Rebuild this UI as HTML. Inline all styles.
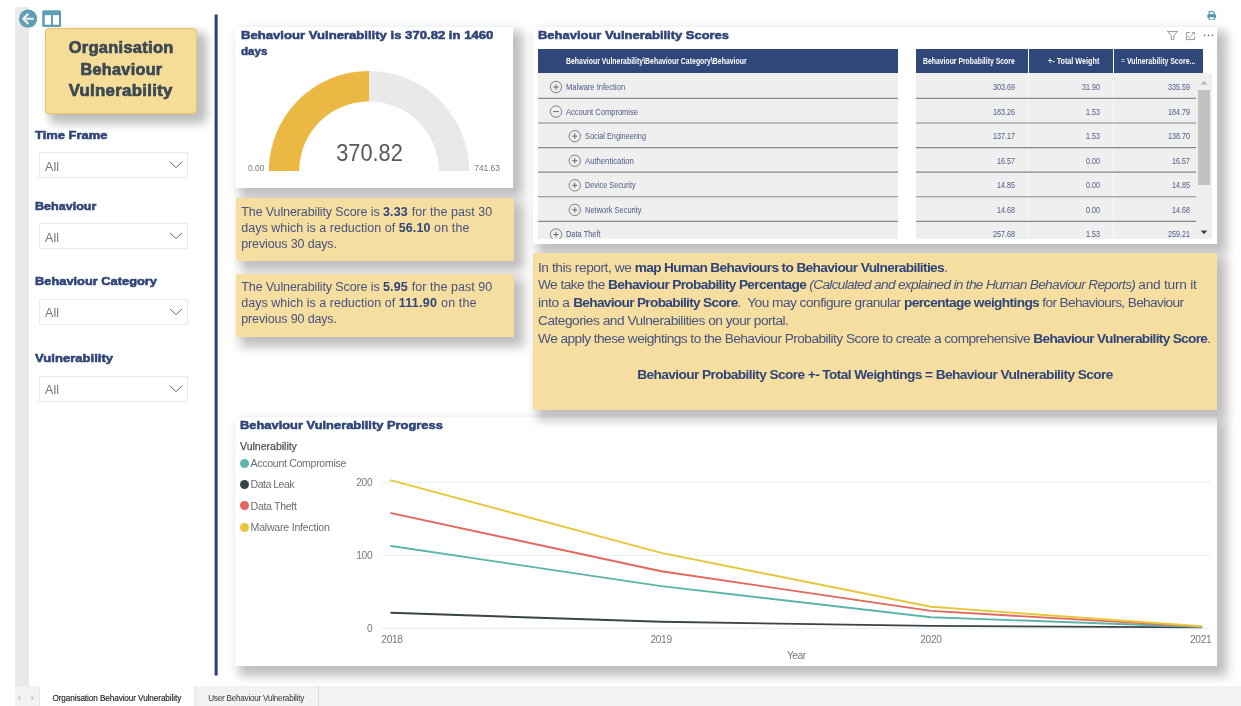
<!DOCTYPE html>
<html><head><meta charset="utf-8"><title>Organisation Behaviour Vulnerability</title>
<style>
html,body{margin:0;padding:0;background:#fff;}
body{width:1241px;height:706px;position:relative;overflow:hidden;font-family:"Liberation Sans",sans-serif;}
.a{position:absolute;}
.t{position:absolute;white-space:nowrap;line-height:1;}
.sh{box-shadow:7px 7px 10px 3px rgba(0,0,0,.255);}
.blk{font-weight:700;color:#2f4478;-webkit-text-stroke:.55px #2f4478;}
.card{position:absolute;background:#fff;}
.ybox{position:absolute;background:#f5dea0;}
.sl{position:absolute;left:38.8px;width:147px;height:24px;border:1px solid #e9e9e9;background:#fff;box-sizing:content-box;}
.sl span{position:absolute;left:5.3px;top:6.4px;font-size:12.5px;line-height:14px;color:#777;}
.sl svg{position:absolute;left:129.3px;top:8px;}
.tx{color:#46537e;}
.tx b{color:#2f4478;}
</style></head><body><div id="root" style="position:absolute;left:0;top:0;width:1241px;height:706px;will-change:transform">

<!-- left grey strip + tab bar -->
<div class="a" style="left:15px;top:7px;width:14px;height:679px;background:#eaeaea"></div>
<div class="a" id="tabbar" style="left:15px;top:686px;width:1226px;height:20px;background:#f3f2f1"></div>

<!-- vertical divider -->
<svg class="a" style="left:213px;top:14px" width="6" height="663" viewBox="213 14 6 663"><rect x="214.6" y="14.5" width="3.05" height="661" fill="#2c4279"/></svg>

<!-- CHART CARD -->
<div class="card sh" id="chart" style="left:235px;top:417px;width:982px;height:249px"></div>

<!-- CHART CONTENT -->
<div class="t blk" style="left:240px;top:420px;font-size:11.5px"><span style="display:inline-block;transform-origin:left center;transform:scaleX(1.1200);">Behaviour Vulnerability Progress</span></div>
<div class="t" style="left:240px;top:440.6px;font-size:10.6px;color:#555;-webkit-text-stroke:.25px #555"><span style="letter-spacing:-0.033px;">Vulnerability</span></div>
<div class="a" style="left:239.70000000000002px;top:458.79999999999995px;width:9.2px;height:9.2px;border-radius:50%;background:#5cb5a7"></div>
<div class="t" style="left:250.6px;top:458.0px;font-size:10.6px;color:#6e6e6e"><span style="letter-spacing:-0.327px;">Account Compromise</span></div>
<div class="a" style="left:239.70000000000002px;top:480.0px;width:9.2px;height:9.2px;border-radius:50%;background:#394348"></div>
<div class="t" style="left:250.6px;top:479.2px;font-size:10.6px;color:#6e6e6e"><span style="letter-spacing:-0.533px;">Data Leak</span></div>
<div class="a" style="left:239.70000000000002px;top:501.29999999999995px;width:9.2px;height:9.2px;border-radius:50%;background:#e2665d"></div>
<div class="t" style="left:250.6px;top:500.5px;font-size:10.6px;color:#6e6e6e"><span style="letter-spacing:-0.328px;">Data Theft</span></div>
<div class="a" style="left:239.70000000000002px;top:522.9px;width:9.2px;height:9.2px;border-radius:50%;background:#e8c63b"></div>
<div class="t" style="left:250.6px;top:522.1px;font-size:10.6px;color:#6e6e6e"><span style="letter-spacing:-0.237px;">Malware Infection</span></div>
<svg class="a" style="left:235px;top:417px" width="982" height="249" viewBox="235 417 982 249"><path d="M382 482.4H1210.6" stroke="#ececec" stroke-width="1"/><path d="M382 555.4H1210.6" stroke="#ececec" stroke-width="1"/><path d="M382 628.3H1210.6" stroke="#ececec" stroke-width="1"/><path d="M391.2 612.8 L661.2 621.8 L930.9 625.9 L1201.3 627.4" fill="none" stroke="#394348" stroke-width="1.9" stroke-linejoin="round" stroke-linecap="round"/><path d="M391.2 546.0 L661.2 586.1 L930.9 617.2 L1201.3 627.0" fill="none" stroke="#5cb5a7" stroke-width="1.9" stroke-linejoin="round" stroke-linecap="round"/><path d="M391.2 513.1 L661.2 571.3 L930.9 610.9 L1201.3 626.6" fill="none" stroke="#e2665d" stroke-width="1.9" stroke-linejoin="round" stroke-linecap="round"/><path d="M391.2 480.3 L661.2 552.9 L930.9 606.8 L1201.3 626.3" fill="none" stroke="#e8c63b" stroke-width="1.9" stroke-linejoin="round" stroke-linecap="round"/></svg>
<div class="t" style="left:356.3px;top:478.4px;font-size:10.2px;color:#777"><span style="letter-spacing:-0.367px;">200</span></div>
<div class="t" style="left:356.3px;top:551.2px;font-size:10.2px;color:#777"><span style="letter-spacing:-0.367px;">100</span></div>
<div class="t" style="left:366.9px;top:624.1px;font-size:10.2px;color:#777"><span style="letter-spacing:-0.372px;">0</span></div>
<div class="t" style="left:381.3px;top:634.5px;font-size:10.2px;color:#777"><span style="letter-spacing:-0.318px;">2018</span></div>
<div class="t" style="left:650.4px;top:634.5px;font-size:10.2px;color:#777"><span style="letter-spacing:-0.318px;">2019</span></div>
<div class="t" style="left:920.2px;top:634.5px;font-size:10.2px;color:#777"><span style="letter-spacing:-0.318px;">2020</span></div>
<div class="t" style="left:1190.0px;top:634.5px;font-size:10.2px;color:#777"><span style="letter-spacing:-0.318px;">2021</span></div>
<div class="t" style="left:787px;top:651.2px;font-size:10.2px;color:#777"><span style="letter-spacing:-0.498px;">Year</span></div>

<!-- TABLE CARD -->
<div class="card sh" id="table" style="left:533px;top:27px;width:684.2px;height:216.5px"></div>

<!-- GAUGE CARD -->
<div class="card sh" id="gauge" style="left:235px;top:27px;width:278px;height:161px"></div>

<!-- TEXT BOXES -->
<div class="ybox sh" id="tb1" style="left:236.4px;top:198px;width:277.2px;height:63px"></div>
<div class="ybox sh" id="tb2" style="left:236.4px;top:273.7px;width:277.2px;height:63px"></div>
<div class="ybox sh" id="tb3" style="left:533px;top:253px;width:684px;height:157px"></div>


<!-- TABLE CONTENT -->
<div class="t blk" style="left:538.3px;top:29.6px;font-size:11.5px"><span style="display:inline-block;transform-origin:left center;transform:scaleX(1.1263);">Behaviour Vulnerability Scores</span></div>
<svg class="a" style="left:1160px;top:28px" width="56" height="14" viewBox="1160 28 56 14"><path d="M1167.4 31.4h10.2l-3.7 4.2v4h-2.6v-4z" fill="none" stroke="#888" stroke-width=".85" stroke-linejoin="miter"/><path d="M1190 32.6h-3.6v7h8.1v-3M1192 32.6h2.5v2" fill="none" stroke="#888" stroke-width=".85"/><path d="M1191 36.1l3.3-3.3" stroke="#999" stroke-width=".7"/><path d="M1186.6 36.5h3.7v3" fill="none" stroke="#b0b0b0" stroke-width=".7"/><circle cx="1204.5" cy="35.4" r=".8" fill="#666"/><circle cx="1208.55" cy="35.4" r=".8" fill="#666"/><circle cx="1212.5" cy="35.4" r=".8" fill="#666"/></svg>
<div class="a" style="left:538px;top:73.2px;width:360px;height:165.5px;background:#efefef"></div>
<div class="a" style="left:916.2px;top:73.2px;width:295.9px;height:165.5px;background:#efefef"></div>
<div class="a" style="left:538px;top:49px;width:360px;height:24.3px;background:#30477a"></div>
<div class="a" style="left:916.2px;top:49px;width:286.7px;height:24.3px;background:#30477a"></div>
<div class="a" style="left:1027.8px;top:48.6px;width:.9px;height:24.7px;background:#fff"></div>
<div class="a" style="left:1027.8px;top:73.3px;width:.9px;height:165.4px;background:#fff;opacity:.55"></div>
<div class="a" style="left:1112.9px;top:48.6px;width:.9px;height:24.7px;background:#fff"></div>
<div class="a" style="left:1112.9px;top:73.3px;width:.9px;height:165.4px;background:#fff;opacity:.55"></div>
<div class="t" style="left:566.3px;top:57.0px;font-size:8.9px;font-weight:700;color:#fff"><span style="display:inline-block;transform-origin:left center;transform:scaleX(0.7807);">Behaviour Vulnerability\Behaviour Category\Behaviour</span></div>
<div class="t" style="left:923.2px;top:57.0px;font-size:8.9px;font-weight:700;color:#fff"><span style="display:inline-block;transform-origin:left center;transform:scaleX(0.7715);">Behaviour Probability Score</span></div>
<div class="t" style="left:1048.3px;top:57.0px;font-size:8.9px;font-weight:700;color:#fff"><span style="display:inline-block;transform-origin:left center;transform:scaleX(0.8139);">+- Total Weight</span></div>
<div class="t" style="left:1121px;top:57.0px;font-size:8.9px;font-weight:700;color:#fff"><span style="display:inline-block;transform-origin:left center;transform:scaleX(0.7811);"><span style="color:#a9b3cc">=</span> Vulnerability Score...</span></div>
<svg class="a" style="left:538px;top:73px" width="660" height="166" viewBox="538 73 660 166"><path d="M538 98.40H898M916.2 98.40H1196.2" stroke="#888" stroke-width="1.15"/><path d="M538 122.98H898M916.2 122.98H1196.2" stroke="#888" stroke-width="1.15"/><path d="M538 147.56H898M916.2 147.56H1196.2" stroke="#888" stroke-width="1.15"/><path d="M538 172.14H898M916.2 172.14H1196.2" stroke="#888" stroke-width="1.15"/><path d="M538 196.72H898M916.2 196.72H1196.2" stroke="#888" stroke-width="1.15"/><path d="M538 221.30H898M916.2 221.30H1196.2" stroke="#888" stroke-width="1.15"/></svg>
<div class="a" style="left:0;top:0;width:1241px;height:238.7px;overflow:hidden"><div class="t" style="left:566.3px;top:83.00px;font-size:8.6px;color:#4a5986"><span style="display:inline-block;transform-origin:left center;transform:scaleX(0.8789);">Malware Infection</span></div>
<div class="t" style="left:992.80px;top:83.00px;font-size:8.6px;color:#4a5986"><span style="display:inline-block;transform-origin:left center;transform:scaleX(0.8366);">303.69</span></div>
<div class="t" style="left:1081.70px;top:83.00px;font-size:8.6px;color:#4a5986"><span style="display:inline-block;transform-origin:left center;transform:scaleX(0.8320);">31.90</span></div>
<div class="t" style="left:1167.70px;top:83.00px;font-size:8.6px;color:#4a5986"><span style="display:inline-block;transform-origin:left center;transform:scaleX(0.8366);">335.59</span></div>
<div class="t" style="left:566.3px;top:107.58px;font-size:8.6px;color:#4a5986"><span style="display:inline-block;transform-origin:left center;transform:scaleX(0.8764);">Account Compromise</span></div>
<div class="t" style="left:992.80px;top:107.58px;font-size:8.6px;color:#4a5986"><span style="display:inline-block;transform-origin:left center;transform:scaleX(0.8366);">183.26</span></div>
<div class="t" style="left:1085.75px;top:107.58px;font-size:8.6px;color:#4a5986"><span style="display:inline-block;transform-origin:left center;transform:scaleX(0.8276);">1.53</span></div>
<div class="t" style="left:1167.70px;top:107.58px;font-size:8.6px;color:#4a5986"><span style="display:inline-block;transform-origin:left center;transform:scaleX(0.8366);">184.79</span></div>
<div class="t" style="left:585.2px;top:132.16px;font-size:8.6px;color:#4a5986"><span style="display:inline-block;transform-origin:left center;transform:scaleX(0.8511);">Social Engineering</span></div>
<div class="t" style="left:992.80px;top:132.16px;font-size:8.6px;color:#4a5986"><span style="display:inline-block;transform-origin:left center;transform:scaleX(0.8366);">137.17</span></div>
<div class="t" style="left:1085.75px;top:132.16px;font-size:8.6px;color:#4a5986"><span style="display:inline-block;transform-origin:left center;transform:scaleX(0.8276);">1.53</span></div>
<div class="t" style="left:1167.70px;top:132.16px;font-size:8.6px;color:#4a5986"><span style="display:inline-block;transform-origin:left center;transform:scaleX(0.8366);">138.70</span></div>
<div class="t" style="left:585.2px;top:156.74px;font-size:8.6px;color:#4a5986"><span style="display:inline-block;transform-origin:left center;transform:scaleX(0.8959);">Authentication</span></div>
<div class="t" style="left:996.90px;top:156.74px;font-size:8.6px;color:#4a5986"><span style="display:inline-block;transform-origin:left center;transform:scaleX(0.8320);">16.57</span></div>
<div class="t" style="left:1085.75px;top:156.74px;font-size:8.6px;color:#4a5986"><span style="display:inline-block;transform-origin:left center;transform:scaleX(0.8276);">0.00</span></div>
<div class="t" style="left:1171.80px;top:156.74px;font-size:8.6px;color:#4a5986"><span style="display:inline-block;transform-origin:left center;transform:scaleX(0.8320);">16.57</span></div>
<div class="t" style="left:585.2px;top:181.32px;font-size:8.6px;color:#4a5986"><span style="display:inline-block;transform-origin:left center;transform:scaleX(0.8475);">Device Security</span></div>
<div class="t" style="left:996.90px;top:181.32px;font-size:8.6px;color:#4a5986"><span style="display:inline-block;transform-origin:left center;transform:scaleX(0.8320);">14.85</span></div>
<div class="t" style="left:1085.75px;top:181.32px;font-size:8.6px;color:#4a5986"><span style="display:inline-block;transform-origin:left center;transform:scaleX(0.8276);">0.00</span></div>
<div class="t" style="left:1171.80px;top:181.32px;font-size:8.6px;color:#4a5986"><span style="display:inline-block;transform-origin:left center;transform:scaleX(0.8320);">14.85</span></div>
<div class="t" style="left:585.2px;top:205.90px;font-size:8.6px;color:#4a5986"><span style="display:inline-block;transform-origin:left center;transform:scaleX(0.8714);">Network Security</span></div>
<div class="t" style="left:996.90px;top:205.90px;font-size:8.6px;color:#4a5986"><span style="display:inline-block;transform-origin:left center;transform:scaleX(0.8320);">14.68</span></div>
<div class="t" style="left:1085.75px;top:205.90px;font-size:8.6px;color:#4a5986"><span style="display:inline-block;transform-origin:left center;transform:scaleX(0.8276);">0.00</span></div>
<div class="t" style="left:1171.80px;top:205.90px;font-size:8.6px;color:#4a5986"><span style="display:inline-block;transform-origin:left center;transform:scaleX(0.8320);">14.68</span></div>
<div class="t" style="left:566.3px;top:230.48px;font-size:8.6px;color:#4a5986"><span style="display:inline-block;transform-origin:left center;transform:scaleX(0.8657);">Data Theft</span></div>
<div class="t" style="left:992.80px;top:230.48px;font-size:8.6px;color:#4a5986"><span style="display:inline-block;transform-origin:left center;transform:scaleX(0.8366);">257.68</span></div>
<div class="t" style="left:1085.75px;top:230.48px;font-size:8.6px;color:#4a5986"><span style="display:inline-block;transform-origin:left center;transform:scaleX(0.8276);">1.53</span></div>
<div class="t" style="left:1167.70px;top:230.48px;font-size:8.6px;color:#4a5986"><span style="display:inline-block;transform-origin:left center;transform:scaleX(0.8366);">259.21</span></div><svg class="a" style="left:538px;top:73px" width="100" height="180" viewBox="538 73 100 180"><path d="M553.3 87.0h5.4M556 84.3v5.4" stroke="#646464" stroke-width=".95"/><circle cx="556" cy="87.0" r="5.7" fill="none" stroke="#6c6c6c" stroke-width=".85"/><path d="M553.1 111.58h5.8" stroke="#646464" stroke-width=".95"/><circle cx="556" cy="111.58" r="5.7" fill="none" stroke="#6c6c6c" stroke-width=".85"/><path d="M572.0999999999999 136.16h5.4M574.8 133.46v5.4" stroke="#646464" stroke-width=".95"/><circle cx="574.8" cy="136.16" r="5.7" fill="none" stroke="#6c6c6c" stroke-width=".85"/><path d="M572.0999999999999 160.74h5.4M574.8 158.04000000000002v5.4" stroke="#646464" stroke-width=".95"/><circle cx="574.8" cy="160.74" r="5.7" fill="none" stroke="#6c6c6c" stroke-width=".85"/><path d="M572.0999999999999 185.32h5.4M574.8 182.62v5.4" stroke="#646464" stroke-width=".95"/><circle cx="574.8" cy="185.32" r="5.7" fill="none" stroke="#6c6c6c" stroke-width=".85"/><path d="M572.0999999999999 209.89999999999998h5.4M574.8 207.2v5.4" stroke="#646464" stroke-width=".95"/><circle cx="574.8" cy="209.89999999999998" r="5.7" fill="none" stroke="#6c6c6c" stroke-width=".85"/><path d="M553.3 234.48h5.4M556 231.78v5.4" stroke="#646464" stroke-width=".95"/><circle cx="556" cy="234.48" r="5.7" fill="none" stroke="#6c6c6c" stroke-width=".85"/></svg></div>
<div class="a" style="left:1198.4px;top:90.2px;width:11.8px;height:95.2px;background:#c2c2c2"></div>
<svg class="a" style="left:1200px;top:79.5px" width="8" height="5" viewBox="0 0 8 5"><path d="M.7 4.4L4 .8l3.3 3.6z" fill="#b4b4b4"/></svg>
<svg class="a" style="left:1200px;top:229.6px" width="8" height="5" viewBox="0 0 8 5"><path d="M.7.6L4 4.3 7.3.6z" fill="#444"/></svg>

<!-- GAUGE CONTENT -->
<div class="t blk" style="left:240.5px;top:27.4px;font-size:11.5px;line-height:16.1px"><span style="display:inline-block;transform-origin:left center;transform:scaleX(1.1397);">Behaviour Vulnerability is 370.82 in 1460</span><br><span style="display:inline-block;transform-origin:left center;transform:scaleX(1.0107);">days</span></div>
<svg class="a" style="left:235px;top:60px" width="278" height="125" viewBox="235 60 278 125">
<path d="M268.8 171A100.2 100.2 0 0 1 369 70.9V101.4A69.6 69.6 0 0 0 299.2 171z" fill="#ebb844"/>
<path d="M369 70.9A100.2 100.2 0 0 1 469.2 171H438.8A69.6 69.6 0 0 0 369 101.4z" fill="#e9e9e9"/>
</svg>
<div class="t" style="left:319px;width:100px;text-align:center;top:141.2px;font-size:24.5px;color:#585858"><span style="display:inline-block;transform-origin:center center;transform:scaleX(0.8874);">370.82</span></div>
<div class="t" style="left:248.1px;top:163.8px;font-size:8.4px;color:#777"><span style="letter-spacing:-0.028px;">0.00</span></div>
<div class="t" style="left:474.3px;top:163.8px;font-size:8.4px;color:#777"><span style="letter-spacing:-0.004px;">741.63</span></div>

<!-- TEXT BOX CONTENT -->
<div class="t tx" style="left:241.3px;top:203.8px;font-size:12.5px;line-height:16.2px"><span style="letter-spacing:-0.117px;">The Vulnerability Score is </span><b><span style="letter-spacing:0.198px;">3.33 </span></b><span style="letter-spacing:0.045px;">for the past 30</span><br><span style="letter-spacing:0.013px;">days which is a reduction of </span><b><span style="letter-spacing:0.106px;">56.10 </span></b><span style="letter-spacing:0.122px;">on the</span><br><span style="letter-spacing:-0.146px;">previous 30 days.</span></div>
<div class="t tx" style="left:241.3px;top:278.9px;font-size:12.5px;line-height:16.2px"><span style="letter-spacing:-0.117px;">The Vulnerability Score is </span><b><span style="letter-spacing:0.198px;">5.95 </span></b><span style="letter-spacing:0.045px;">for the past 90</span><br><span style="letter-spacing:0.013px;">days which is a reduction of </span><b><span style="letter-spacing:0.296px;">111.90 </span></b><span style="letter-spacing:0.122px;">on the</span><br><span style="letter-spacing:-0.146px;">previous 90 days.</span></div>

<!-- BIG TEXT BOX CONTENT -->
<div class="t tx" style="left:538px;top:258.6px;font-size:13.7px;line-height:17.85px"><span style="letter-spacing:-0.436px;">In this report, we </span><b><span style="letter-spacing:-0.647px;">map Human Behaviours to Behaviour Vulnerabilities</span></b>.<br><span style="letter-spacing:-0.549px;">We take the </span><b><span style="letter-spacing:-0.654px;">Behaviour Probability Percentage </span></b><i><span style="letter-spacing:-0.690px;">(Calculated and explained in the Human Behaviour Reports) </span></i><span style="letter-spacing:-0.243px;">and turn it</span><br><span style="letter-spacing:-0.300px;">into a </span><b><span style="letter-spacing:-0.700px;">Behaviour Probability Score</span></b><span style="letter-spacing:-0.519px;">.&nbsp; You may configure granular </span><b><span style="letter-spacing:-0.624px;">percentage weightings </span></b><span style="letter-spacing:-0.656px;">for Behaviours, Behaviour</span><br><span style="letter-spacing:-0.483px;">Categories and Vulnerabilities on your portal.</span><br><span style="letter-spacing:-0.539px;">We apply these weightings to the Behaviour Probability Score to create a comprehensive </span><b><span style="letter-spacing:-0.701px;">Behaviour Vulnerability Score</span></b>.</div>
<div class="t tx" style="left:533px;width:684px;text-align:center;top:365.7px;font-size:13.7px;line-height:17.85px"><span style="letter-spacing:-0.590px;"><b>Behaviour Probability Score +- Total Weightings = Behaviour Vulnerability Score</b></span></div>

<!-- TITLE BOX -->
<div class="a sh" id="titlebox" style="left:45px;top:28px;width:150px;height:84px;background:#f5dd97;border:1px solid #ecc25a;border-radius:4px"></div>


<!-- ICONS -->
<svg class="a" style="left:18px;top:9px" width="20" height="20" viewBox="0 0 20 20"><circle cx="10.1" cy="9.7" r="9.15" fill="#5f9eb6"/><path d="M14.9 9.7H5.6M9.7 5.2L5.2 9.7l4.5 4.5" fill="none" stroke="#f1f1f1" stroke-width="2.1" stroke-linecap="round" stroke-linejoin="round"/></svg>
<svg class="a" style="left:42px;top:10px" width="20" height="18" viewBox="0 0 20 18"><rect x=".2" y=".3" width="18.9" height="16.7" rx="1.6" fill="#5f9eb6"/><rect x="2.8" y="5.2" width="6.1" height="9.5" fill="#fff"/><rect x="10.9" y="5.2" width="6.1" height="9.5" fill="#fff"/></svg>
<svg class="a" style="left:1207px;top:10.6px" width="9.6" height="9.6" viewBox="0 0 10 10"><path d="M2.2.6h4l1.5 1.4V4H2.2z" fill="none" stroke="#4c97b3" stroke-width="1.1"/><rect x=".4" y="3.6" width="9.1" height="3.6" rx=".9" fill="#4c97b3"/><rect x="2.2" y="6" width="5.5" height="3.3" fill="#fff" stroke="#4c97b3" stroke-width="1.1"/></svg>

<!-- TITLE TEXT -->
<div class="t" style="top:40px;left:45px;width:152px;text-align:center;font-size:16px;font-weight:700;color:#3c4852;-webkit-text-stroke:.7px #3c4852;letter-spacing:.3px"><span style="display:inline-block;transform-origin:center center;transform:scaleX(1.0266);">Organisation</span></div>
<div class="t" style="top:62px;left:45px;width:152px;text-align:center;font-size:16px;font-weight:700;color:#3c4852;-webkit-text-stroke:.7px #3c4852;letter-spacing:.3px"><span style="display:inline-block;transform-origin:center center;transform:scaleX(1.0129);">Behaviour</span></div>
<div class="t" style="top:83px;left:45px;width:152px;text-align:center;font-size:16px;font-weight:700;color:#3c4852;-webkit-text-stroke:.7px #3c4852;letter-spacing:.3px"><span style="display:inline-block;transform-origin:center center;transform:scaleX(1.0469);">Vulnerability</span></div>


<!-- SLICERS -->
<div class="t blk" style="left:34.7px;top:130.2px;font-size:11.5px"><span style="display:inline-block;transform-origin:left center;transform:scaleX(1.1249);">Time Frame</span></div>
<div class="sl" style="top:152.4px"><span>All</span><svg width="14" height="8" viewBox="0 0 14 8"><path d="M.8.9L7 6.6 13.2.9" fill="none" stroke="#6a6a6a" stroke-width="1"/></svg></div>
<div class="t blk" style="left:34.7px;top:201.2px;font-size:11.5px"><span style="display:inline-block;transform-origin:left center;transform:scaleX(1.0916);">Behaviour</span></div>
<div class="sl" style="top:223.3px"><span>All</span><svg width="14" height="8" viewBox="0 0 14 8"><path d="M.8.9L7 6.6 13.2.9" fill="none" stroke="#6a6a6a" stroke-width="1"/></svg></div>
<div class="t blk" style="left:34.7px;top:276px;font-size:11.5px"><span style="display:inline-block;transform-origin:left center;transform:scaleX(1.1164);">Behaviour Category</span></div>
<div class="sl" style="top:298.5px"><span>All</span><svg width="14" height="8" viewBox="0 0 14 8"><path d="M.8.9L7 6.6 13.2.9" fill="none" stroke="#6a6a6a" stroke-width="1"/></svg></div>
<div class="t blk" style="left:34.7px;top:352.6px;font-size:11.5px"><span style="display:inline-block;transform-origin:left center;transform:scaleX(1.1386);">Vulnerability</span></div>
<div class="sl" style="top:375.5px"><span>All</span><svg width="14" height="8" viewBox="0 0 14 8"><path d="M.8.9L7 6.6 13.2.9" fill="none" stroke="#6a6a6a" stroke-width="1"/></svg></div>

<!-- TABS -->
<div class="a" style="left:39.7px;top:686px;width:154.5px;height:20px;background:#fff"></div>
<div class="a" style="left:194.2px;top:686px;width:1.5px;height:20px;background:#ebebea"></div>
<div class="a" style="left:317.5px;top:686px;width:1px;height:20px;background:#dcdcdc"></div>
<div class="a" style="left:38.9px;top:686px;width:1px;height:20px;background:#e6e6e6"></div>
<div class="t" style="left:52.4px;top:694.6px;font-size:8.2px;color:#252423;-webkit-text-stroke:.15px #252423"><span style="letter-spacing:-0.093px;">Organisation Behaviour Vulnerability</span></div>
<div class="t" style="left:208.2px;top:694.6px;font-size:8.2px;color:#333"><span style="letter-spacing:-0.257px;">User Behaviour Vulnerability</span></div>
<svg class="a" style="left:17px;top:695px" width="20" height="6" viewBox="0 0 20 6"><path d="M3.4.3v5.4L.7 3z" fill="#c8c6c4"/><path d="M14.4.3v5.4L17.1 3z" fill="#c8c6c4"/></svg>

</div></body></html>
